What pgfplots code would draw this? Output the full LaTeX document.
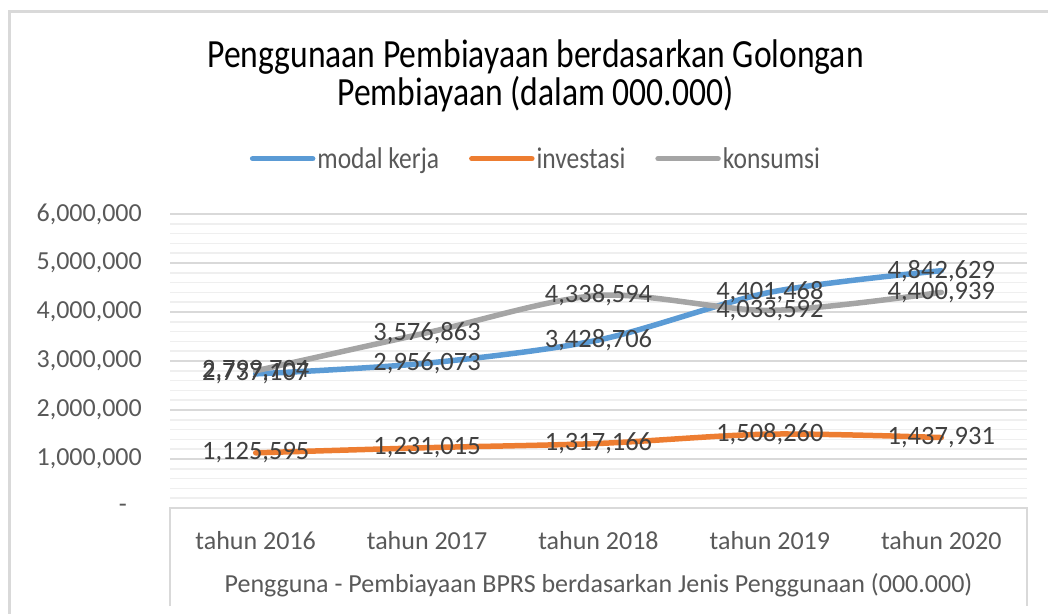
\documentclass[border=0pt]{standalone}
\usepackage{pgfplots}
\pgfplotsset{compat=1.18}
\usepackage{fontspec}
\setmainfont{Carlito}
\usepackage{graphicx}

\definecolor{cmodal}{HTML}{5B9BD5}
\definecolor{cinvest}{HTML}{ED7D31}
\definecolor{ckons}{HTML}{A5A5A5}
\definecolor{ctick}{HTML}{595959}
\definecolor{clabel}{HTML}{404040}
\definecolor{cgrid}{HTML}{D9D9D9}
\definecolor{cminor}{HTML}{EFEFEF}

\newcommand{\tickfont}{\fontsize{26}{30}\selectfont}

\begin{document}
\begin{tikzpicture}[x=1pt,y=1pt]
\path[use as bounding box] (0,0) rectangle (1048,613);
% outer chart frame (only left and top are visible)
\draw[cgrid, line width=3pt] (9.5,-5) -- (9.5,601.5) -- (1060,601.5);

\begin{axis}[
    at={(170pt,105pt)}, anchor=south west,
    scale only axis,
    width=857pt, height=294pt,
    xmin=-0.5, xmax=4.5,
    ymin=0, ymax=6000000,
    scaled y ticks=false,
    xtick={0,1,2,3,4},
    xticklabels={tahun 2016,tahun 2017,tahun 2018,tahun 2019,tahun 2020},
    ytick={0,1000000,2000000,3000000,4000000,5000000,6000000},
    yticklabels={{-\hspace*{15pt}},{1,000,000},{2,000,000},{3,000,000},{4,000,000},{5,000,000},{6,000,000}},
    minor y tick num=4,
    ymajorgrids, yminorgrids,
    major grid style={cgrid, line width=1.5pt},
    minor grid style={cminor, line width=1.5pt},
    major tick length=0pt, minor tick length=0pt,
    axis line style={draw=none},
    yticklabel style={anchor=east, inner sep=0pt, xshift=-28pt, font=\tickfont, text=ctick},
    xticklabel style={anchor=center, yshift=-33pt, font=\tickfont, text=ctick},
    xlabel={Pengguna - Pembiayaan BPRS berdasarkan Jenis Penggunaan (000.000)},
    xlabel style={at={(axis description cs:0.5,0)}, anchor=center, yshift=-77pt, font=\tickfont, text=ctick},
    title={\scalebox{0.84}[1]{Penggunaan Pembiayaan berdasarkan Golongan}\\\scalebox{0.84}[1]{Pembiayaan (dalam 000.000)}},
    title style={at={(axis description cs:0.4266,1.45)}, anchor=center, align=center, font=\fontsize{40}{38}\selectfont, text=black},
    legend style={at={(axis description cs:0.427,1.188)}, anchor=center, draw=none, fill=none,
        font=\fontsize{30}{30}\selectfont, text=ctick, nodes={inner sep=2pt},
        /tikz/every even column/.append style={column sep=28pt}},
    legend columns=3,
    legend image code/.code={\draw[#1, line width=5.5pt, line cap=round] (2.5pt,0pt) -- (62.5pt,0pt);},
    every axis plot/.append style={line width=5.5pt, line cap=round, smooth, tension=0.5},
]
\addplot[cmodal] coordinates {(0,2737107) (1,2956073) (2,3428706) (3,4401468) (4,4842629)};
\addlegendentry{\scalebox{0.85}[1]{modal kerja}}
\addplot[cinvest] coordinates {(0,1125595) (1,1231015) (2,1317166) (3,1508260) (4,1437931)};
\addlegendentry{\scalebox{0.85}[1]{investasi}}
\addplot[ckons] coordinates {(0,2799704) (1,3576863) (2,4338594) (3,4033592) (4,4400939)};
\addlegendentry{\scalebox{0.85}[1]{konsumsi}}

% data labels, drawn above all lines
\pgfplotsset{every node near coord/.append style={anchor=center, inner sep=0pt, font=\fontsize{26.5}{30}\selectfont, text=clabel}}
\addplot[draw=none, mark=none, forget plot, nodes near coords, point meta=explicit symbolic] coordinates {
    (0,2737107) [2,737,107] (1,2956073) [2,956,073] (2,3428706) [3,428,706] (3,4401468) [4,401,468] (4,4842629) [4,842,629]};
\addplot[draw=none, mark=none, forget plot, nodes near coords, point meta=explicit symbolic] coordinates {
    (0,1125595) [1,125,595] (1,1231015) [1,231,015] (2,1317166) [1,317,166] (3,1508260) [1,508,260] (4,1437931) [1,437,931]};
\addplot[draw=none, mark=none, forget plot, nodes near coords, point meta=explicit symbolic] coordinates {
    (0,2799704) [2,799,704] (1,3576863) [3,576,863] (2,4338594) [4,338,594] (3,4033592) [4,033,592] (4,4400939) [4,400,939]};
\end{axis}

% category box under the plot area
\draw[cgrid, line width=1.5pt] (170,7) -- (170,105) -- (1027,105) -- (1027,7);
\end{tikzpicture}
\end{document}
